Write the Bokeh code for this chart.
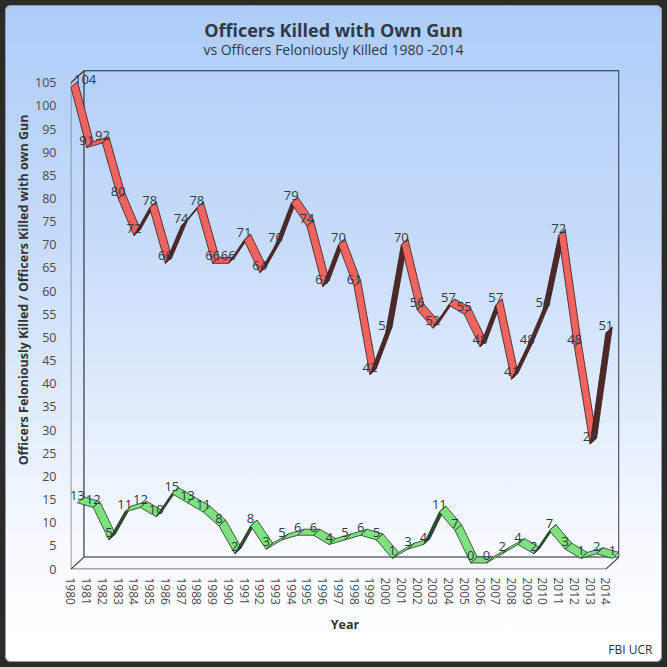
from bokeh.plotting import figure
from bokeh.models import FixedTicker, Title, Range1d, ColumnDataSource, GlobalInlineStyleSheet
from bokeh.core.properties import value
from bokeh.embed import file_html
from bokeh.resources import INLINE

# ---------------- data ----------------
years = list(range(1980, 2015))
feloniously_killed = [104, 91, 92, 80, 72, 78, 66, 74, 78, 66, 66, 71, 64, 70, 79, 74, 61, 70,
                      61, 42, 51, 70, 56, 52, 57, 55, 48, 57, 41, 48, 56, 72, 48, 27, 51]
killed_own_gun = [13, 12, 5, 11, 12, 10, 15, 13, 11, 8, 2, 8, 3, 5, 6, 6, 4, 5, 6, 5, 1, 3,
                  4, 11, 7, 0, 0, 2, 4, 2, 7, 3, 1, 2, 1]
y_ticks = list(range(0, 106, 5))

title_text = "Officers Killed with Own Gun"
subtitle_text = "vs Officers Feloniously Killed 1980 -2014"
y_label = "Officers Feloniously Killed / Officers Killed with own Gun"
x_label = "Year"
source_text = "FBI UCR"

# ---------------- geometry of the pseudo-3D box ----------------
W, H = 657, 657
B_LEFT, B_RIGHT, B_TOP, B_BOTTOM = 65, 43, 5, 93
BOX_TOP = 65                      # canvas px from top to back-plane top
DEPTH_PX_X, DEPTH_PX_Y = 13.0, 12.0
frame_w = W - B_LEFT - B_RIGHT
frame_h = H - B_TOP - B_BOTTOM

x_first, x_last = years[0], years[-1]
y_top = y_ticks[-1]
px_per_year = (frame_w - DEPTH_PX_X) / (x_last - x_first + 0.07)
DX = DEPTH_PX_X / px_per_year
px_per_unit = (H - B_BOTTOM - BOX_TOP - DEPTH_PX_Y) / (y_top + 0.15)
DY = DEPTH_PX_Y / px_per_unit

x_range = Range1d(x_first - 0.03, x_first - 0.03 + frame_w / px_per_year)
y_range = Range1d(-0.1, -0.1 + frame_h / px_per_unit)


def canvas_to_data(cx, cy):
    return (x_range.start + (cx - B_LEFT) / px_per_year,
            y_range.start + (H - B_BOTTOM - cy) / px_per_unit)


FONT = "Open Sans"
TEXT_COLOR = "#2e3a48"

p = figure(width=W, height=H, x_range=x_range, y_range=y_range,
           output_backend="svg", toolbar_location=None,
           min_border_left=B_LEFT, min_border_right=B_RIGHT,
           min_border_top=B_TOP, min_border_bottom=B_BOTTOM)
p.background_fill_color = None
p.border_fill_color = None
p.outline_line_color = None
p.xgrid.grid_line_color = None
p.ygrid.grid_line_color = None
p.styles = {
    "background": "linear-gradient(to bottom, #adcdf8 0%, #c6dbfa 35%, #e2edfc 62%, #f7faff 82%, #ffffff 100%)",
    "border-radius": "6px",
    "outline": "1px solid #9c9c9c",
    "outline-offset": "-1px",
}
p.stylesheets = [GlobalInlineStyleSheet(css="body { background: #2b2b2b; padding: 5px; }")]

# ---------------- axes ----------------
p.xaxis.ticker = FixedTicker(ticks=years)
p.xaxis.major_label_orientation = "vertical"
p.xaxis.major_label_standoff = 2
p.xaxis.axis_label = x_label
p.xaxis.axis_label_standoff = 8
p.yaxis.ticker = FixedTicker(ticks=y_ticks)
p.yaxis.major_label_standoff = 8
p.yaxis.axis_label = y_label
p.yaxis.axis_label_standoff = 0
for ax in (p.xaxis, p.yaxis):
    ax.axis_line_color = None
    ax.major_tick_line_color = None
    ax.minor_tick_line_color = None
    ax.major_label_text_font = FONT
    ax.major_label_text_font_size = "12px"
    ax.major_label_text_color = "#4a4a4a"
    ax.axis_label_text_font = FONT
    ax.axis_label_text_font_style = "bold"
    ax.axis_label_text_font_size = "12.5px"
    ax.axis_label_text_color = "#333333"
p.yaxis.major_label_text_font_size = "12.5px"

p.add_layout(Title(text=source_text, align="right", offset=-33, text_font=FONT,
                   text_font_size="12px", text_font_style="normal",
                   text_color="#333333", standoff=7), "below")

# ---------------- box edges ----------------
bx0 = [x_first, x_first, x_first, x_first, x_last,
       x_first + DX, x_first + DX, x_last + DX, x_first + DX]
by0 = [0, 0, y_top, 0, 0,
       DY, y_top + DY, DY, DY]
bx1 = [x_first, x_last, x_first + DX, x_first + DX, x_last + DX,
       x_first + DX, x_last + DX, x_last + DX, x_last + DX]
by1 = [y_top, 0, y_top + DY, DY, DY,
       y_top + DY, y_top + DY, y_top + DY, DY]
bcol = ["#7d8590", "#555555", "#333333", "#333333", "#333333",
        "#1c2530", "#1c2530", "#1c2530", "#1c2530"]
p.segment(x0=bx0, y0=by0, x1=bx1, y1=by1, line_color=bcol, line_width=1.1)


# ---------------- ribbons ----------------
def ribbon(vals, d0, d1, face, side, edge):
    xs, ys, fills = [], [], []
    ex, ey = (d1 - d0) * DX, (d1 - d0) * DY
    for i in range(len(vals) - 1):
        xa, ya = years[i] + d0 * DX, vals[i] + d0 * DY
        xb, yb = years[i + 1] + d0 * DX, vals[i + 1] + d0 * DY
        xs.append([xa, xb, xb + ex, xa + ex])
        ys.append([ya, yb, yb + ey, ya + ey])
        seg_px_x = (xb - xa) * px_per_year
        seg_px_up = (yb - ya) * px_per_unit
        cross = seg_px_x * DEPTH_PX_Y - seg_px_up * DEPTH_PX_X
        fills.append(face if cross > 0 else side)
    src = ColumnDataSource(dict(xs=xs, ys=ys, fill=fills))
    p.patches(xs="xs", ys="ys", fill_color="fill", line_color=edge, line_width=0.8,
              line_join="round", source=src)


def point_labels(vals, d0, first_left):
    lx = [x + d0 * DX for x in years]
    ly = [v + d0 * DY for v in vals]
    lt = [str(v) for v in vals]
    start = 0
    if first_left:
        p.text(x=lx[:1], y=ly[:1], text=lt[:1], text_font=value(FONT), text_font_size="13px",
               text_color=TEXT_COLOR, text_align="left", text_baseline="bottom",
               x_offset=3, y_offset=-3)
        start = 1
    p.text(x=lx[start:], y=ly[start:], text=lt[start:], text_font=value(FONT),
           text_font_size="13px", text_color=TEXT_COLOR, text_align="center",
           text_baseline="bottom", y_offset=-3)


ribbon(killed_own_gun, 0.5, 1.0, "#7fe07f", "#2f4a2f", "#223822")
ribbon(feloniously_killed, 0.0, 0.5, "#f0645f", "#4e2727", "#3a1c1c")
point_labels(killed_own_gun, 0.5, False)
point_labels(feloniously_killed, 0.0, True)

# ---------------- titles (inside the tall frame, above the box) ----------------
tx, ty = canvas_to_data(328, 24)
sx, sy = canvas_to_data(328, 44)
p.text(x=[tx], y=[ty], text=[title_text], text_font=value(FONT), text_font_size="18px",
       text_font_style="bold", text_color=TEXT_COLOR, text_align="center",
       text_baseline="middle")
p.text(x=[sx], y=[sy], text=[subtitle_text], text_font=value(FONT), text_font_size="14px",
       text_color=TEXT_COLOR, text_align="center", text_baseline="middle")

open("out.html", "w").write(file_html(p, INLINE))
